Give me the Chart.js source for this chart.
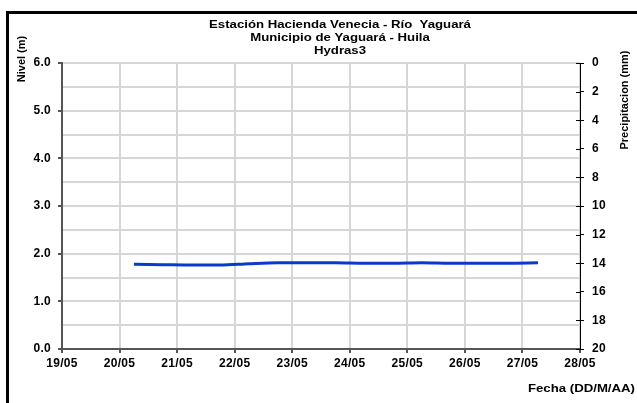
<!DOCTYPE html>
<html>
<head>
<meta charset="utf-8">
<script src="https://cdn.jsdelivr.net/npm/chart.js@4"></script>
<style>
  html, body { margin: 0; padding: 0; background: #fff; }
  canvas { display: block; }
</style>
</head>
<body>
<canvas id="nivelChart" width="637" height="403"></canvas>
<script>
// lecturas de nivel (fecha dd/mm hh:mm, nivel en metros)
const fechas = [
  '20/05 06:00', '20/05 18:00', '21/05 06:00', '21/05 18:00',
  '22/05 06:00', '22/05 18:00', '23/05 06:00', '23/05 18:00',
  '24/05 06:00', '24/05 18:00', '25/05 06:00', '25/05 18:00',
  '26/05 06:00', '26/05 18:00', '27/05 06:30'
];
const niveles = [
  1.78, 1.77, 1.76, 1.76,
  1.79, 1.81, 1.81, 1.81,
  1.80, 1.80, 1.81, 1.80,
  1.80, 1.80, 1.81
];
const titulos = ['Estación Hacienda Venecia - Río  Yaguará', 'Municipio de Yaguará - Huila', 'Hydras3'];
const diaInicio = 19;
const diaFin = 28;
const mes = '05';

const familia = '"Liberation Sans", Arial, sans-serif';
const fuente = 'bold 11px ' + familia;

// convierte 'dd/mm hh:mm' en dia decimal
function aDia(txt) {
  const [f, h] = txt.split(' ');
  const dia = parseInt(f.split('/')[0], 10);
  const [hh, mm] = h.split(':').map(Number);
  return dia + (hh + mm / 60) / 24;
}

const puntos = fechas.map((f, i) => ({ x: aDia(f), y: niveles[i] }));

// texto horizontal un poco ensanchado, como en el original
function textoAncho(c, txt, x, y, align) {
  c.save();
  c.textAlign = align;
  c.scale(1.2, 1);
  c.fillText(txt, x / 1.2, y);
  c.restore();
}

const textos = {
  id: 'textos',
  beforeDraw(chart) {
    const c = chart.ctx;
    c.letterSpacing = '0.3px';
    c.save();
    c.fillStyle = '#000';
    c.fillRect(6, 11, 3, 392);
    c.fillRect(6, 11, 631, 3);
    c.restore();
  },
  afterDraw(chart) {
    const c = chart.ctx;
    c.save();
    c.letterSpacing = '0px';
    c.fillStyle = '#000';
    c.font = fuente;
    c.textBaseline = 'middle';
    titulos.forEach((t, i) => textoAncho(c, t, 340, 25 + i * 13, 'center'));
    textoAncho(c, 'Fecha (DD/M/AA)', 635, 389, 'right');

    c.textAlign = 'center';
    // titulo eje derecho
    c.save();
    c.translate(625, 100);
    c.rotate(-Math.PI / 2);
    c.fillText('Precipitacion (mm)', 0, 0);
    c.restore();

    // titulo eje izquierdo
    c.save();
    c.translate(22, 59);
    c.rotate(-Math.PI / 2);
    c.fillText('Nivel (m)', 0, 0);
    c.restore();

    // marcas interiores del eje derecho
    const y2 = chart.scales.y2;
    const xr = chart.chartArea.right;
    c.strokeStyle = '#000';
    c.lineWidth = 1;
    y2.ticks.forEach((t) => {
      const py = Math.round(y2.getPixelForValue(t.value)) + 0.5;
      c.beginPath();
      c.moveTo(xr - 4, py);
      c.lineTo(xr, py);
      c.stroke();
    });
    c.restore();
  }
};

const fuenteEje = { family: familia, size: 12, weight: 'bold' };

new Chart(document.getElementById('nivelChart').getContext('2d'), {
  type: 'line',
  data: {
    datasets: [
      {
        data: puntos,
        borderColor: '#0a3acb',
        borderWidth: 3,
        pointRadius: 0,
        tension: 0.4,
        cubicInterpolationMode: 'monotone',
        yAxisID: 'y'
      }
    ]
  },
  options: {
    responsive: false,
    animation: false,
    layout: { padding: { top: 63, left: 0, right: 0, bottom: 0 } },
    plugins: {
      legend: { display: false },
      tooltip: { enabled: false }
    },
    scales: {
      x: {
        type: 'linear',
        position: 'bottom',
        min: diaInicio,
        max: diaFin,
        afterFit: (s) => { s.height = 54; },
        ticks: {
          stepSize: 1,
          maxRotation: 0,
          autoSkip: false,
          color: '#000',
          font: fuenteEje,
          padding: 3,
          callback: (v) => String(v).padStart(2, '0') + '/' + mes
        },
        grid: { color: '#d6d6d6', lineWidth: 2, tickLength: 4, tickColor: '#555' },
        border: { color: '#555', width: 2 }
      },
      y: {
        position: 'left',
        min: 0,
        max: 6,
        afterFit: (s) => { s.width = 62; },
        ticks: {
          stepSize: 0.5,
          color: '#000',
          font: fuenteEje,
          padding: 7,
          callback: (v) => (v % 1 === 0 ? v.toFixed(1) : '')
        },
        grid: {
          color: '#d6d6d6',
          lineWidth: 2,
          tickLength: 4,
          tickColor: (ctx) => (ctx.tick && ctx.tick.value % 1 === 0 ? '#555' : 'rgba(0,0,0,0)')
        },
        border: { color: '#555', width: 2 }
      },
      y2: {
        position: 'right',
        reverse: true,
        min: 0,
        max: 20,
        afterFit: (s) => { s.width = 57; },
        ticks: {
          stepSize: 2,
          color: '#000',
          font: fuenteEje,
          padding: 8
        },
        grid: { drawOnChartArea: false, tickLength: 4, tickColor: '#000' },
        border: { color: '#000', width: 1 }
      }
    }
  },
  plugins: [textos]
});
</script>
</body>
</html>
